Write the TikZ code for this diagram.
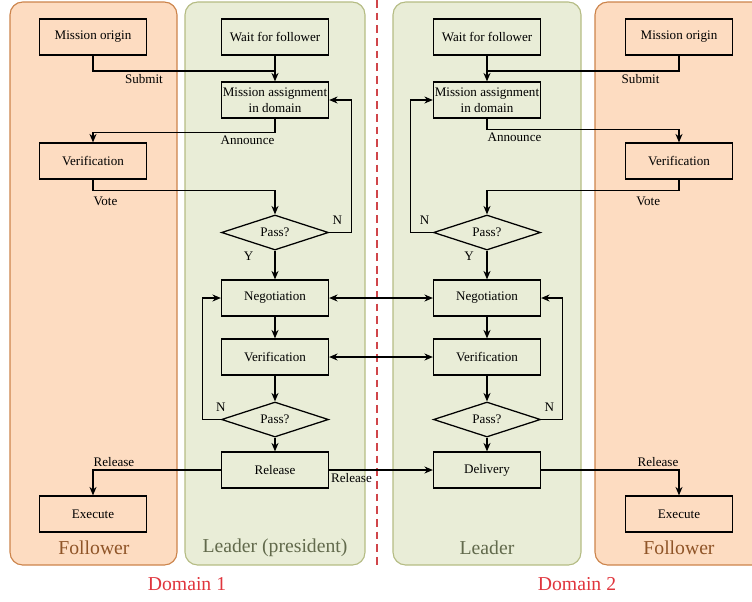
\documentclass[tikz,border=0pt]{standalone}
\usepackage{fontspec}
\setmainfont{Liberation Serif}
\usetikzlibrary{positioning, arrows.meta, shapes.geometric, calc}
\definecolor{folfill}{HTML}{FDDCC1}
\definecolor{folline}{HTML}{CC844B}
\definecolor{foltext}{HTML}{8F5427}
\definecolor{leadfill}{HTML}{E9EDD7}
\definecolor{leadline}{HTML}{B5BC84}
\definecolor{leadtext}{HTML}{626A4C}
\definecolor{domred}{HTML}{E0353D}
\definecolor{dashred}{HTML}{D0454A}

\begin{document}
\begin{tikzpicture}[
    x=0.025cm, y=-0.025cm,
    box/.style={draw, line width=0.9pt, minimum width=2.675cm, minimum height=0.9cm,
                inner xsep=1pt, inner ysep=1pt, font=\fontsize{9.3}{11.4}\selectfont, align=center},
    decision/.style={diamond, draw, line width=0.9pt, aspect=3, inner sep=0pt,
                     minimum width=2.675cm, minimum height=0.875cm, font=\fontsize{9.3}{11}\selectfont},
    arr/.style={-{Stealth[length=6pt, width=5pt]}, line width=0.9pt},
    biarr/.style={{Stealth[length=6pt, width=5pt]}-{Stealth[length=6pt, width=5pt]}, line width=0.9pt},
    link/.style={line width=0.9pt},
    lbl/.style={font=\fontsize{9.3}{11}\selectfont, inner sep=2pt},
    lane/.style={draw=#1line, fill=#1fill, line width=0.8pt, rounded corners=9pt},
    lanelbl/.style={font=\fontsize{14}{16}\selectfont, text=#1text},
    domlbl/.style={font=\fontsize{14}{16}\selectfont, text=domred},
  ]
  \useasboundingbox (0,0) rectangle (752,601);

  % ── Lanes ──
  \draw[lane=fol]  (10,2)  rectangle (177,565);
  \draw[lane=lead] (185,2) rectangle (365,565);
  \draw[lane=lead] (393,2) rectangle (581,565);
  \draw[lane=fol]  (595,2) rectangle (775,565);
  \node[lanelbl=fol]  (fol1name)  at (94,548)  {Follower};
  \node[lanelbl=lead] (lead1name) at (275,548) {Leader (president)};
  \node[lanelbl=lead] (lead2name) at (487,548) {Leader};
  \node[lanelbl=fol]  (fol2name)  at (679,548) {Follower};

  % ── Domain border ──
  \draw[dashred, line width=1pt, dash pattern=on 5.5pt off 3.5pt] (377,0) -- (377,566);
  \node[domlbl] (dom1) at (187,584) {Domain 1};
  \node[domlbl] (dom2) at (577,584) {Domain 2};

  % ── Domain 1 ──
  \node[box] (orig1) at (93,37) {Mission origin};
  \node[box] (wait1) at (275,37) {Wait for follower};
  \node[box] (assign1) at (275,100) {Mission assignment\\in domain};
  \node[box] (fver1) at (93,161) {Verification};
  \node[decision] (pass1) at (275,232.5) {Pass?};
  \node[box] (neg1) at (275,298) {Negotiation};
  \node[box] (ver1) at (275,357) {Verification};
  \node[decision] (pass2) at (275,419.5) {Pass?};
  \node[box] (rel1) at (275,470) {Release};
  \node[box] (exec1) at (93,514) {Execute};

  % ── Domain 2 ──
  \node[box] (orig2) at (679,37) {Mission origin};
  \node[box] (wait2) at (487,37) {Wait for follower};
  \node[box] (assign2) at (487,100) {Mission assignment\\in domain};
  \node[box] (fver2) at (679,161) {Verification};
  \node[decision] (pass3) at (487,232.5) {Pass?};
  \node[box] (neg2) at (487,298) {Negotiation};
  \node[box] (ver2) at (487,357) {Verification};
  \node[decision] (pass4) at (487,419.5) {Pass?};
  \node[box] (del2) at (487,470) {Delivery};
  \node[box] (exec2) at (679,514) {Execute};

  % ── Arrows, domain 1 ──
  \draw[link] (orig1.south) |- node[lbl, below, pos=0.64] {Submit} ($(wait1.south)!0.6!(assign1.north)$);
  \draw[arr] (wait1) -- (assign1);
  \draw[arr] (assign1.south) -- ++(0,14) node[lbl, below left, inner xsep=0pt] {Announce} -| (fver1.north);
  \draw[arr] (fver1.south) -- ++(0,11) node[lbl, below right, inner xsep=0pt, yshift=-2pt] {Vote} -| (pass1.north);
  \draw[arr] (pass1.east) node[lbl, above right, yshift=3pt] {N} -- ++(22,0) |- (assign1.east);
  \draw[arr] (pass1.south) -- node[lbl, left=13pt, pos=0.2] {Y} (neg1.north);
  \draw[arr] (neg1) -- (ver1);
  \draw[arr] (ver1) -- (pass2);
  \draw[arr] (pass2) -- (rel1);
  \draw[arr] (pass2.west) node[lbl, above, yshift=3pt] {N} -- ++(-18,0) |- (neg1.west);
  \draw[arr] (rel1.west) -| node[lbl, pos=0.5, above right, inner xsep=0pt] {Release} (exec1.north);

  % ── Between leaders ──
  \draw[biarr] (neg1) -- (neg2);
  \draw[biarr] (ver1) -- (ver2);
  \draw[arr] (rel1.east) -- node[lbl, below right, pos=0, inner xsep=1pt] {Release} (del2.west);

  % ── Arrows, domain 2 ──
  \draw[link] (orig2.south) |- node[lbl, below, pos=0.6] {Submit} ($(wait2.south)!0.6!(assign2.north)$);
  \draw[arr] (wait2) -- (assign2);
  \draw[arr] (assign2.south) -- ++(0,11) node[lbl, below right, inner xsep=0pt] {Announce} -| (fver2.north);
  \draw[arr] (fver2.south) -- ++(0,11) -| node[lbl, below, pos=0.08, yshift=-2pt] {Vote} (pass3.north);
  \draw[arr] (pass3.west) node[lbl, above left, yshift=3pt] {N} -- ++(-22,0) |- (assign2.west);
  \draw[arr] (pass3.south) -- node[lbl, left=7pt, pos=0.2] {Y} (neg2.north);
  \draw[arr] (neg2) -- (ver2);
  \draw[arr] (ver2) -- (pass4);
  \draw[arr] (pass4) -- (del2);
  \draw[arr] (pass4.east) node[lbl, above right, yshift=3pt] {N} -- ++(21,0) |- (neg2.east);
  \draw[arr] (del2.east) -| node[lbl, pos=0.5, above left, inner xsep=0pt] {Release} (exec2.north);

\end{tikzpicture}
\end{document}
